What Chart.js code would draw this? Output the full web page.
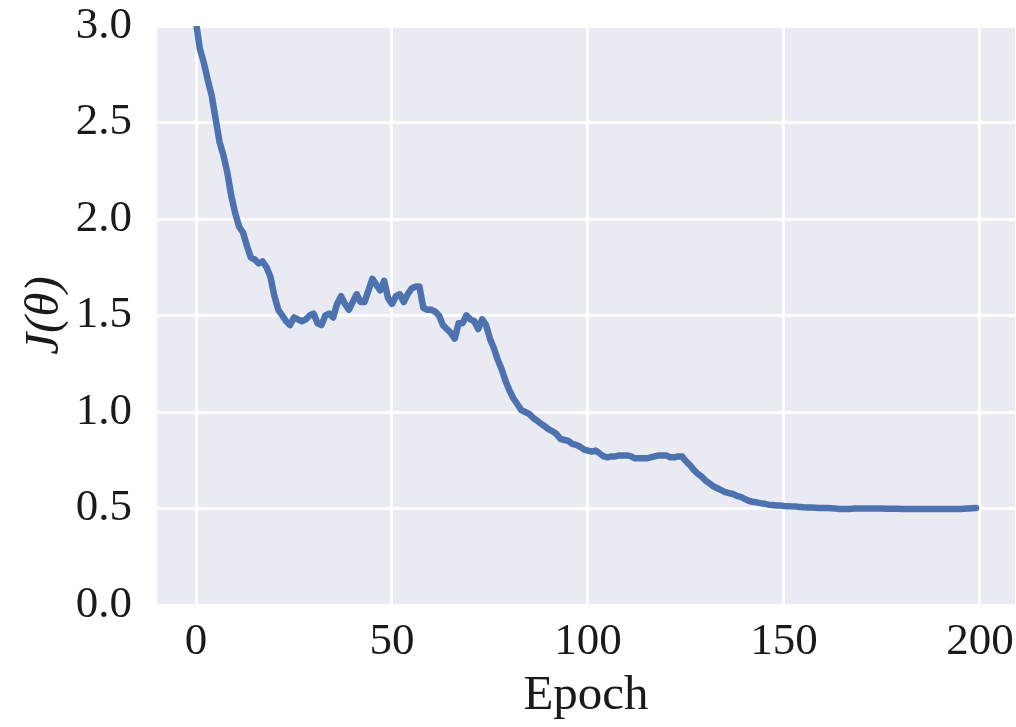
<!DOCTYPE html>
<html>
<head>
<meta charset="utf-8">
<script src="https://cdn.jsdelivr.net/npm/chart.js@4.4.0/dist/chart.umd.min.js"></script>
<style>
  html, body { margin: 0; padding: 0; background: #fff; }
</style>
</head>
<body>
<canvas id="lossChart" width="1016" height="727"></canvas>
<script>
// loss per epoch (epoch = index)
var lossValues = [
  3.02, 2.88, 2.81, 2.72, 2.64, 2.52, 2.40, 2.33, 2.24, 2.12,
  2.03, 1.96, 1.93, 1.86, 1.80, 1.79, 1.77, 1.78, 1.75, 1.70,
  1.60, 1.53, 1.50, 1.47, 1.45, 1.49, 1.48, 1.47, 1.48, 1.50,
  1.51, 1.46, 1.45, 1.50, 1.51, 1.49, 1.56, 1.60, 1.56, 1.53,
  1.57, 1.61, 1.57, 1.57, 1.63, 1.69, 1.66, 1.63, 1.68, 1.59,
  1.56, 1.60, 1.61, 1.57, 1.61, 1.64, 1.65, 1.65, 1.54, 1.53,
  1.53, 1.52, 1.50, 1.45, 1.43, 1.41, 1.38, 1.46, 1.46, 1.50,
  1.48, 1.47, 1.43, 1.48, 1.45, 1.38, 1.33, 1.27, 1.22, 1.16,
  1.11, 1.07, 1.04, 1.01, 1.00, 0.99, 0.97, 0.955, 0.94, 0.925,
  0.91, 0.90, 0.885, 0.86, 0.855, 0.85, 0.835, 0.83, 0.82, 0.805,
  0.80, 0.795, 0.80, 0.785, 0.77, 0.765, 0.77, 0.77, 0.775, 0.775,
  0.775, 0.77, 0.76, 0.76, 0.76, 0.76, 0.765, 0.77, 0.775, 0.775,
  0.775, 0.765, 0.765, 0.77, 0.77, 0.745, 0.725, 0.70, 0.68, 0.665,
  0.645, 0.63, 0.615, 0.605, 0.595, 0.585, 0.58, 0.575, 0.565, 0.56,
  0.55, 0.54, 0.535, 0.532, 0.528, 0.525, 0.52, 0.518, 0.516, 0.515,
  0.513, 0.512, 0.511, 0.51, 0.508, 0.506, 0.505, 0.505, 0.504, 0.503,
  0.503, 0.502, 0.501, 0.50, 0.498, 0.497, 0.497, 0.498, 0.50, 0.50,
  0.50, 0.50, 0.50, 0.50, 0.50, 0.50, 0.499, 0.499, 0.499, 0.499,
  0.498, 0.498, 0.498, 0.498, 0.498, 0.497, 0.497, 0.497, 0.497, 0.497,
  0.497, 0.497, 0.497, 0.498, 0.498, 0.498, 0.499, 0.50, 0.501, 0.502
];
var epochs = lossValues.map(function (v, i) { return i; });

var xTicks = [0, 50, 100, 150, 200];
var yTicks = [0.0, 0.5, 1.0, 1.5, 2.0, 2.5, 3.0];

var xLabel = 'Epoch';
var yLabel = 'J(\u03B8)';

var tickFont = { family: '"Liberation Serif", "DejaVu Serif", serif', size: 45 };
var titleFont = { family: '"Liberation Serif", "DejaVu Serif", serif', size: 49 };

// seaborn style grey plot area
const plotBackground = {
  id: 'plotBackground',
  beforeDraw(chart) {
    const ctx = chart.ctx;
    const a = chart.chartArea;
    ctx.save();
    ctx.fillStyle = '#eaeaf2';
    ctx.fillRect(a.left, a.top, a.right - a.left, a.bottom - a.top);
    ctx.restore();
  }
};

const CHART = document.getElementById('lossChart');
let lineChart = new Chart(CHART, {
  type: 'line',
  data: {
    datasets: [{
      data: epochs.map(function (e, i) { return { x: e, y: lossValues[i] }; }),
      borderColor: '#4c72b0',
      borderWidth: 6.5,
      pointRadius: 0,
      tension: 0,
      fill: false,
      borderJoinStyle: 'round',
      borderCapStyle: 'round'
    }]
  },
  options: {
    responsive: false,
    animation: false,
    events: [],
    layout: { padding: { top: 26, right: 1, left: 0, bottom: 0 } },
    plugins: {
      legend: { display: false },
      tooltip: { enabled: false }
    },
    scales: {
      x: {
        type: 'linear',
        min: -9.95,
        max: 208.95,
        afterBuildTicks: function (scale) {
          scale.ticks = xTicks.map(function (v) { return { value: v }; });
        },
        afterFit: function (scale) {
          scale.height = 122;
          scale.paddingLeft = 0;
          scale.paddingRight = 0;
        },
        ticks: {
          font: tickFont,
          color: '#1a1a1a',
          padding: 10,
          maxRotation: 0,
          callback: function (v) { return String(v); }
        },
        grid: { color: '#ffffff', lineWidth: 3, drawTicks: false },
        border: { display: false },
        title: {
          display: true,
          text: xLabel,
          font: titleFont,
          color: '#1a1a1a',
          padding: { top: 0, bottom: 1 }
        }
      },
      y: {
        type: 'linear',
        min: 0,
        max: 3,
        afterBuildTicks: function (scale) {
          scale.ticks = yTicks.map(function (v) { return { value: v }; });
        },
        afterFit: function (scale) {
          scale.width = 157;
          scale.paddingTop = 0;
          scale.paddingBottom = 0;
        },
        ticks: {
          font: tickFont,
          color: '#1a1a1a',
          padding: 25,
          callback: function (v) { return Number(v).toFixed(1); }
        },
        grid: { color: '#ffffff', lineWidth: 3, drawTicks: false },
        border: { display: false },
        title: {
          display: true,
          text: yLabel,
          font: Object.assign({ style: 'italic' }, titleFont),
          color: '#1a1a1a',
          padding: { top: 16, bottom: 0 }
        }
      }
    }
  },
  plugins: [plotBackground]
});
</script>
</body>
</html>
